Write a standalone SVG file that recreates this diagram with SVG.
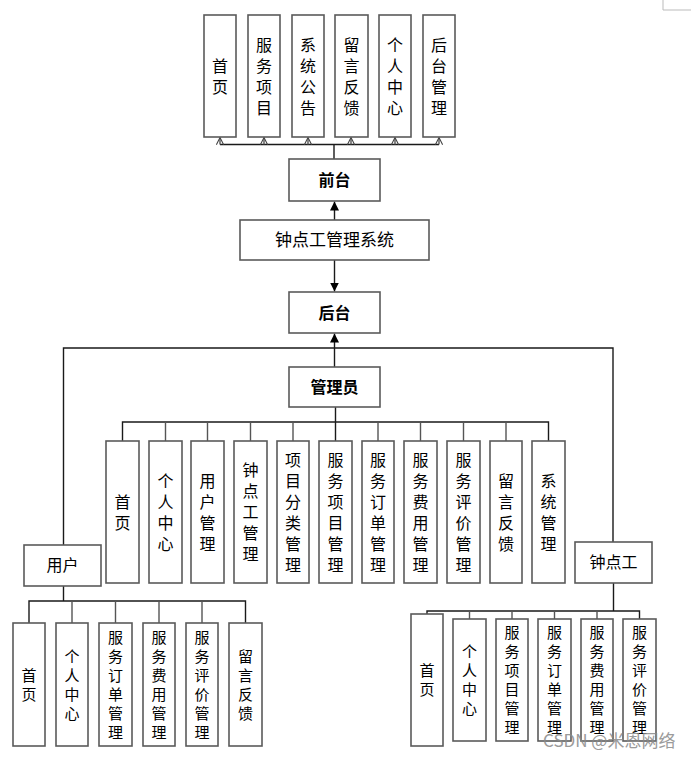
<svg xmlns="http://www.w3.org/2000/svg" width="695" height="758" viewBox="0 0 695 758">
<defs>
<marker id="fa" viewBox="0 0 10 10" refX="10" refY="5" markerWidth="9" markerHeight="9" markerUnits="userSpaceOnUse" orient="auto"><path d="M0,0 L10,5 L0,10 z" fill="#000"/></marker>
<marker id="oa" viewBox="0 0 10 10" refX="9" refY="5" markerWidth="8" markerHeight="8" markerUnits="userSpaceOnUse" orient="auto"><path d="M0,0.5 L9,5 L0,9.5" fill="none" stroke="#444" stroke-width="1.3"/></marker>
</defs>
<style>
.b{fill:#fff;stroke:#5a5a5a;stroke-width:1.6}
.t{font-family:"Noto Sans CJK SC","Liberation Sans",sans-serif;font-size:16px;fill:#000;text-anchor:middle}
.s{font-size:15px}
.h{font-size:16px}
.bold{font-weight:bold}
.c{fill:none;stroke:#1a1a1a;stroke-width:1.4}
.g{fill:none;stroke:#555;stroke-width:1.4}
</style>
<rect width="695" height="758" fill="#fff"/>
<path d="M663,0 V10 H691" fill="none" stroke="#bbb" stroke-width="1"/>

<g id="connectors">
<path class="c" d="M334,159 V144.5 M220,144.5 H439"/>
<path class="g" d="M220,144.5 V137.5" marker-end="url(#oa)"/>
<path class="g" d="M264,144.5 V137.5" marker-end="url(#oa)"/>
<path class="g" d="M308,144.5 V137.5" marker-end="url(#oa)"/>
<path class="g" d="M351,144.5 V137.5" marker-end="url(#oa)"/>
<path class="g" d="M395,144.5 V137.5" marker-end="url(#oa)"/>
<path class="g" d="M439,144.5 V137.5" marker-end="url(#oa)"/>
<path class="c" d="M334.5,220 V201.5" marker-end="url(#fa)"/>
<path class="c" d="M334.5,260 V291.5" marker-end="url(#fa)"/>
<path class="c" d="M334.5,367 V333.5" marker-end="url(#fa)"/>
<path class="c" d="M63.5,545 V348 H613 V542"/>
<path class="c" d="M335.5,407 V441 M122.5,441 V422 H548.5 V441"/>
<path class="g" d="M165.5,422 V441 M207.5,422 V441 M250.5,422 V441 M293,422 V441 M378,422 V441 M420.5,422 V441 M463.5,422 V441 M506,422 V441"/>
<path class="c" d="M63.5,586 V601" stroke-width="2"/>
<path class="c" d="M29,623 V601 H245.5 V623"/>
<path class="g" d="M72,601 V623 M115.5,601 V623 M159,601 V623 M202,601 V623"/>
<path class="c" d="M613.5,583 V611 M427,614 V611 H639.5 V619"/>
<path class="g" d="M469.5,611 V619 M512,611 V619 M554.5,611 V619 M597,611 V619"/>
</g>

<g id="top-shouye"><rect class="b" x="204" y="15" width="32" height="122"/><text class="t" x="220" y="71.5">首<tspan x="220" dy="21">页</tspan></text></g>
<g id="top-fuwuxiangmu"><rect class="b" x="248" y="15" width="32" height="122"/><text class="t" x="264" y="50.5">服<tspan x="264" dy="21">务</tspan><tspan x="264" dy="21">项</tspan><tspan x="264" dy="21">目</tspan></text></g>
<g id="top-xitonggonggao"><rect class="b" x="292" y="15" width="32" height="122"/><text class="t" x="308" y="50.5">系<tspan x="308" dy="21">统</tspan><tspan x="308" dy="21">公</tspan><tspan x="308" dy="21">告</tspan></text></g>
<g id="top-liuyanfankui"><rect class="b" x="335" y="15" width="33" height="122"/><text class="t" x="351.5" y="50.5">留<tspan x="351.5" dy="21">言</tspan><tspan x="351.5" dy="21">反</tspan><tspan x="351.5" dy="21">馈</tspan></text></g>
<g id="top-gerenzhongxin"><rect class="b" x="379" y="15" width="32" height="122"/><text class="t" x="395" y="50.5">个<tspan x="395" dy="21">人</tspan><tspan x="395" dy="21">中</tspan><tspan x="395" dy="21">心</tspan></text></g>
<g id="top-houtaiguanli"><rect class="b" x="423" y="15" width="32" height="122"/><text class="t" x="439" y="50.5">后<tspan x="439" dy="21">台</tspan><tspan x="439" dy="21">管</tspan><tspan x="439" dy="21">理</tspan></text></g>

<g id="qiantai"><rect class="b" x="289" y="159" width="91" height="42"/><text class="t bold" x="334.5" y="186">前台</text></g>
<g id="system"><rect class="b" x="240" y="220" width="189" height="40"/><text class="t" x="334.5" y="246" style="font-size:17px">钟点工管理系统</text></g>
<g id="houtai"><rect class="b" x="289" y="292" width="91" height="41"/><text class="t bold" x="334.5" y="318.5">后台</text></g>
<g id="admin"><rect class="b" x="289" y="367" width="91" height="40"/><text class="t bold" x="334.5" y="393">管理员</text></g>
<g id="user"><rect class="b" x="24" y="545" width="77" height="41"/><text class="t" x="62.5" y="571">用户</text></g>
<g id="worker"><rect class="b" x="575" y="542" width="77" height="41"/><text class="t" x="613.5" y="568">钟点工</text></g>

<g id="a-shouye"><rect class="b" x="106" y="441" width="33" height="142"/><text class="t" x="122.5" y="507.5">首<tspan x="122.5" dy="21">页</tspan></text></g>
<g id="a-gerenzhongxin"><rect class="b" x="149" y="441" width="33" height="142"/><text class="t" x="165.5" y="486.5">个<tspan x="165.5" dy="21">人</tspan><tspan x="165.5" dy="21">中</tspan><tspan x="165.5" dy="21">心</tspan></text></g>
<g id="a-yonghuguanli"><rect class="b" x="191" y="441" width="33" height="142"/><text class="t" x="207.5" y="486.5">用<tspan x="207.5" dy="21">户</tspan><tspan x="207.5" dy="21">管</tspan><tspan x="207.5" dy="21">理</tspan></text></g>
<g id="a-zhongdiangongguanli"><rect class="b" x="234" y="441" width="33" height="142"/><text class="t" x="250.5" y="476">钟<tspan x="250.5" dy="21">点</tspan><tspan x="250.5" dy="21">工</tspan><tspan x="250.5" dy="21">管</tspan><tspan x="250.5" dy="21">理</tspan></text></g>
<g id="a-xiangmufenlei"><rect class="b" x="277" y="441" width="32" height="142"/><text class="t" x="293" y="465.5">项<tspan x="293" dy="21">目</tspan><tspan x="293" dy="21">分</tspan><tspan x="293" dy="21">类</tspan><tspan x="293" dy="21">管</tspan><tspan x="293" dy="21">理</tspan></text></g>
<g id="a-fuwuxiangmu"><rect class="b" x="319" y="441" width="33" height="142"/><text class="t" x="335.5" y="465.5">服<tspan x="335.5" dy="21">务</tspan><tspan x="335.5" dy="21">项</tspan><tspan x="335.5" dy="21">目</tspan><tspan x="335.5" dy="21">管</tspan><tspan x="335.5" dy="21">理</tspan></text></g>
<g id="a-fuwudingdan"><rect class="b" x="362" y="441" width="32" height="142"/><text class="t" x="378" y="465.5">服<tspan x="378" dy="21">务</tspan><tspan x="378" dy="21">订</tspan><tspan x="378" dy="21">单</tspan><tspan x="378" dy="21">管</tspan><tspan x="378" dy="21">理</tspan></text></g>
<g id="a-fuwufeiyong"><rect class="b" x="404" y="441" width="33" height="142"/><text class="t" x="420.5" y="465.5">服<tspan x="420.5" dy="21">务</tspan><tspan x="420.5" dy="21">费</tspan><tspan x="420.5" dy="21">用</tspan><tspan x="420.5" dy="21">管</tspan><tspan x="420.5" dy="21">理</tspan></text></g>
<g id="a-fuwupingjia"><rect class="b" x="447" y="441" width="33" height="142"/><text class="t" x="463.5" y="465.5">服<tspan x="463.5" dy="21">务</tspan><tspan x="463.5" dy="21">评</tspan><tspan x="463.5" dy="21">价</tspan><tspan x="463.5" dy="21">管</tspan><tspan x="463.5" dy="21">理</tspan></text></g>
<g id="a-liuyanfankui"><rect class="b" x="490" y="441" width="32" height="142"/><text class="t" x="506" y="486.5">留<tspan x="506" dy="21">言</tspan><tspan x="506" dy="21">反</tspan><tspan x="506" dy="21">馈</tspan></text></g>
<g id="a-xitongguanli"><rect class="b" x="532" y="441" width="33" height="142"/><text class="t" x="548.5" y="486.5">系<tspan x="548.5" dy="21">统</tspan><tspan x="548.5" dy="21">管</tspan><tspan x="548.5" dy="21">理</tspan></text></g>

<g id="u-shouye"><rect class="b" x="13" y="623" width="32" height="123"/><text class="t s" x="29" y="680.5">首<tspan x="29" dy="19">页</tspan></text></g>
<g id="u-gerenzhongxin"><rect class="b" x="56" y="623" width="32" height="123"/><text class="t s" x="72" y="661.5">个<tspan x="72" dy="19">人</tspan><tspan x="72" dy="19">中</tspan><tspan x="72" dy="19">心</tspan></text></g>
<g id="u-fuwudingdan"><rect class="b" x="99" y="623" width="33" height="123"/><text class="t s" x="115.5" y="642.5">服<tspan x="115.5" dy="19">务</tspan><tspan x="115.5" dy="19">订</tspan><tspan x="115.5" dy="19">单</tspan><tspan x="115.5" dy="19">管</tspan><tspan x="115.5" dy="19">理</tspan></text></g>
<g id="u-fuwufeiyong"><rect class="b" x="143" y="623" width="32" height="123"/><text class="t s" x="159" y="642.5">服<tspan x="159" dy="19">务</tspan><tspan x="159" dy="19">费</tspan><tspan x="159" dy="19">用</tspan><tspan x="159" dy="19">管</tspan><tspan x="159" dy="19">理</tspan></text></g>
<g id="u-fuwupingjia"><rect class="b" x="186" y="623" width="32" height="123"/><text class="t s" x="202" y="642.5">服<tspan x="202" dy="19">务</tspan><tspan x="202" dy="19">评</tspan><tspan x="202" dy="19">价</tspan><tspan x="202" dy="19">管</tspan><tspan x="202" dy="19">理</tspan></text></g>
<g id="u-liuyanfankui"><rect class="b" x="229" y="623" width="33" height="123"/><text class="t s" x="245.5" y="661.5">留<tspan x="245.5" dy="19">言</tspan><tspan x="245.5" dy="19">反</tspan><tspan x="245.5" dy="19">馈</tspan></text></g>

<g id="w-shouye"><rect class="b" x="411" y="614" width="32" height="132"/><text class="t s" x="427" y="676">首<tspan x="427" dy="19">页</tspan></text></g>
<g id="w-gerenzhongxin"><rect class="b" x="453" y="619" width="33" height="122"/><text class="t s" x="469.5" y="657">个<tspan x="469.5" dy="19">人</tspan><tspan x="469.5" dy="19">中</tspan><tspan x="469.5" dy="19">心</tspan></text></g>
<g id="w-fuwuxiangmu"><rect class="b" x="496" y="619" width="32" height="122"/><text class="t s" x="512" y="638">服<tspan x="512" dy="19">务</tspan><tspan x="512" dy="19">项</tspan><tspan x="512" dy="19">目</tspan><tspan x="512" dy="19">管</tspan><tspan x="512" dy="19">理</tspan></text></g>
<g id="w-fuwudingdan"><rect class="b" x="538" y="619" width="33" height="122"/><text class="t s" x="554.5" y="638">服<tspan x="554.5" dy="19">务</tspan><tspan x="554.5" dy="19">订</tspan><tspan x="554.5" dy="19">单</tspan><tspan x="554.5" dy="19">管</tspan><tspan x="554.5" dy="19">理</tspan></text></g>
<g id="w-fuwufeiyong"><rect class="b" x="581" y="619" width="32" height="122"/><text class="t s" x="597" y="638">服<tspan x="597" dy="19">务</tspan><tspan x="597" dy="19">费</tspan><tspan x="597" dy="19">用</tspan><tspan x="597" dy="19">管</tspan><tspan x="597" dy="19">理</tspan></text></g>
<g id="w-fuwupingjia"><rect class="b" x="623" y="619" width="33" height="122"/><text class="t s" x="639.5" y="638">服<tspan x="639.5" dy="19">务</tspan><tspan x="639.5" dy="19">评</tspan><tspan x="639.5" dy="19">价</tspan><tspan x="639.5" dy="19">管</tspan><tspan x="639.5" dy="19">理</tspan></text></g>

<text x="543" y="747" style="font-family:'Noto Sans CJK SC','Liberation Sans',sans-serif;font-size:17px;fill:#8a8a8a;opacity:0.85">CSDN @米恩网络</text>
</svg>
